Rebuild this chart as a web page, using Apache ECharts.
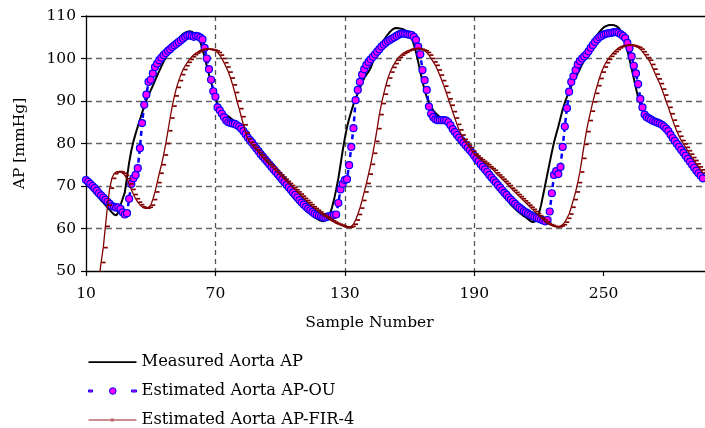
<!DOCTYPE html>
<html>
<head>
<meta charset="utf-8">
<script src="https://cdn.jsdelivr.net/npm/echarts@6/dist/echarts.min.js"></script>
<style>
html,body{margin:0;padding:0;background:#fff;}
#chart{width:705px;height:428px;}
</style>
</head>
<body>
<div id="chart"></div>
<script>
// ---- data (sample numbers start at 10, one value per sample) ----
const firstSample = 10;
const xTickLabels = [10, 70, 130, 190, 250];
const seriesNames = ['Measured Aorta AP', 'Estimated Aorta AP-OU', 'Estimated Aorta AP-FIR-4'];

const measuredAP = [
  70.6,70.0,69.5,68.9,68.3,67.8,67.2,66.6,66.1,65.5,
  65.0,64.4,63.8,63.3,63.1,63.8,65.5,67.0,68.5,72.0,
  75.5,78.3,80.5,82.3,84.0,85.6,87.2,88.8,90.2,91.4,
  92.5,93.6,94.8,96.0,97.1,98.2,99.3,100.2,101.1,101.9,
  102.7,103.4,104.1,104.7,105.3,105.8,106.1,106.3,106.4,106.3,
  106.0,105.6,105.0,103.9,102.2,100.3,98.3,96.3,94.4,92.6,
  90.8,89.3,88.3,87.6,87.1,86.7,86.4,86.0,85.6,85.2,
  84.8,84.4,83.7,83.0,82.3,81.6,80.9,80.2,79.4,78.7,
  78.0,77.3,76.6,75.9,75.2,74.5,73.8,73.2,72.5,71.8,
  71.2,70.5,69.9,69.2,68.6,68.0,67.4,66.8,66.2,65.7,
  65.2,64.7,64.2,63.8,63.4,63.0,62.6,62.3,62.0,61.8,
  61.7,61.9,62.4,63.4,64.8,66.8,69.2,71.8,75.0,78.3,
  81.2,83.8,85.8,87.6,89.2,90.5,91.8,93.1,94.3,95.4,
  96.2,96.9,97.8,99.2,100.5,101.7,102.6,103.5,104.3,105.0,
  105.7,106.3,106.8,107.1,107.2,107.1,107.0,106.9,106.6,106.1,
  105.5,104.7,103.3,101.5,99.2,96.9,94.6,92.6,90.9,89.6,
  88.6,87.8,87.2,86.7,86.3,86.0,85.7,85.5,85.2,84.8,
  84.3,83.6,82.9,82.2,81.5,80.8,80.0,79.3,78.5,77.8,
  77.0,76.3,75.5,74.8,74.1,73.4,72.7,72.0,71.3,70.6,
  69.9,69.3,68.7,68.0,67.4,66.8,66.2,65.6,65.1,64.6,
  64.1,63.7,63.3,62.9,62.6,62.2,61.8,61.5,61.6,62.3,
  63.5,65.5,68.0,70.5,73.0,75.5,78.0,80.3,82.2,84.0,
  86.0,88.0,89.6,91.0,92.3,93.5,94.6,95.5,96.5,97.5,
  98.6,99.6,100.5,101.6,102.6,103.6,104.6,105.5,106.2,106.8,
  107.3,107.6,107.8,107.9,107.9,107.8,107.6,107.2,106.4,105.3,
  104.0,101.9,99.8,97.6,95.3,93.0,90.8,89.3,88.2,87.4,
  86.8,86.4,86.1,85.8,85.6,85.3,85.1,84.6,84.0,83.3,
  82.6,81.9,81.3,80.6,79.9,79.2,78.5,77.8,77.0,76.3,
  75.5,74.8,74.1,73.4,72.6,71.9,71.2
];

const estimatedOU = [
  71.4,71.0,70.5,70.0,69.5,68.9,68.3,67.8,67.3,66.8,
  66.3,65.8,65.3,65.1,64.9,65.0,64.6,63.8,63.3,63.6,
  67.0,70.5,71.8,72.6,74.2,78.9,84.8,89.1,91.5,94.5,
  95.0,96.5,98.0,98.8,99.6,100.2,100.8,101.3,101.8,102.2,
  102.7,103.1,103.5,103.9,104.3,104.7,105.1,105.4,105.5,105.3,
  105.1,105.3,105.2,104.9,104.5,102.5,100.0,97.5,95.0,92.3,
  91.0,88.5,87.8,87.0,86.2,85.4,85.0,84.8,84.7,84.6,
  84.3,84.0,83.5,82.9,82.2,81.4,80.8,80.2,79.5,78.8,
  78.2,77.5,76.9,76.3,75.7,75.1,74.5,73.9,73.3,72.7,
  72.1,71.5,70.9,70.3,69.7,69.1,68.5,67.9,67.3,66.7,
  66.1,65.6,65.1,64.7,64.3,63.9,63.5,63.2,63.0,62.8,
  62.6,62.6,62.8,62.9,63.0,63.2,63.3,66.0,69.2,70.5,
  71.4,71.6,74.9,79.2,83.6,90.2,92.6,94.5,96.2,97.5,
  98.5,99.2,99.8,100.4,101.0,101.6,102.2,102.8,103.3,103.7,
  104.1,104.4,104.7,105.0,105.3,105.6,105.8,105.9,105.8,105.7,
  105.6,105.5,105.1,104.4,102.8,101.0,97.3,94.9,92.6,88.7,
  87.0,86.2,85.7,85.5,85.5,85.5,85.5,85.4,85.0,84.3,
  83.4,82.7,82.0,81.4,80.8,80.2,79.6,79.0,78.4,77.8,
  77.1,76.4,75.8,75.1,74.5,73.9,73.3,72.6,72.0,71.4,
  70.8,70.2,69.6,69.0,68.4,67.9,67.3,66.8,66.3,65.8,
  65.3,64.9,64.5,64.1,63.8,63.5,63.2,62.9,62.7,62.5,
  62.3,62.1,61.9,61.7,62.0,64.0,68.3,72.6,73.5,72.8,
  74.5,79.2,84.0,88.3,92.2,94.5,95.8,97.3,98.6,99.4,
  100.0,100.5,101.0,101.7,102.5,103.2,103.9,104.5,105.0,105.3,
  105.6,105.8,105.9,106.0,106.1,106.2,106.2,106.0,105.7,105.3,
  104.8,103.7,102.4,100.5,98.3,96.5,94.0,90.5,88.5,86.8,
  86.2,85.9,85.6,85.3,85.1,84.9,84.7,84.4,84.0,83.5,
  82.9,82.1,81.3,80.6,79.9,79.2,78.5,77.8,77.1,76.4,
  75.7,75.0,74.3,73.6,73.0,72.4,71.8
];

const estimatedFIR = [
  null,null,null,null,null,44.0,48.0,52.0,55.5,60.5,
  65.5,69.5,71.8,72.9,73.3,73.4,73.3,73.0,72.5,71.7,
  70.5,69.2,68.0,67.0,66.2,65.6,65.1,64.8,64.8,65.0,
  65.5,66.8,68.6,70.8,73.0,75.0,77.3,80.0,83.0,86.0,
  88.8,91.2,93.2,94.8,96.2,97.4,98.3,99.1,99.8,100.4,
  100.9,101.3,101.6,101.9,102.1,102.2,102.2,102.2,102.1,102.0,
  101.8,101.4,100.8,100.0,99.0,98.0,96.8,95.4,93.8,92.0,
  90.0,88.2,86.3,84.4,82.5,81.1,80.3,79.7,79.1,78.5,
  77.9,77.3,76.7,76.1,75.6,75.1,74.6,74.1,73.6,73.1,
  72.6,72.1,71.6,71.1,70.6,70.1,69.6,69.1,68.6,68.1,
  67.6,67.1,66.6,66.1,65.6,65.1,64.7,64.3,63.9,63.5,
  63.1,62.8,62.5,62.1,61.8,61.5,61.2,61.0,60.8,60.6,
  60.4,60.3,60.3,60.5,61.0,62.0,63.3,64.8,66.6,68.6,
  70.6,72.8,75.1,77.7,80.5,83.5,86.8,89.4,91.6,93.6,
  95.4,96.8,97.9,98.8,99.6,100.3,100.8,101.2,101.5,101.8,
  102.0,102.2,102.3,102.4,102.3,102.2,102.0,101.8,101.4,100.8,
  100.0,99.2,98.4,97.3,96.1,94.8,93.5,92.0,90.5,89.0,
  87.5,86.0,84.5,83.2,82.0,81.0,80.3,79.6,79.0,78.2,
  77.5,77.1,76.6,76.2,75.8,75.4,75.0,74.5,74.1,73.7,
  73.1,72.6,72.1,71.6,71.1,70.6,70.1,69.5,69.0,68.5,
  68.0,67.5,67.0,66.5,66.0,65.5,65.0,64.5,64.0,63.5,
  63.0,62.5,62.0,61.6,61.2,60.9,60.7,60.5,60.4,60.4,
  60.6,60.9,61.5,62.4,63.4,65.0,66.8,68.6,70.8,73.3,
  76.5,79.8,82.8,85.4,87.6,89.8,91.8,93.6,95.3,96.8,
  98.0,99.0,99.8,100.5,101.1,101.6,102.1,102.5,102.8,103.0,
  103.1,103.2,103.2,103.1,103.0,102.8,102.6,102.2,101.6,100.9,
  100.2,99.6,98.6,97.5,96.3,95.2,94.1,92.8,91.4,89.9,
  88.5,87.0,85.5,84.1,82.8,81.7,80.7,79.9,79.1,78.3,
  77.5,76.7,76.0,75.2,74.5,73.8,73.1
];

function toPairs(values) {
  return values.map((v, i) => [firstSample + i, v]);
}

const FONT = 'DejaVu Serif';
const chart = echarts.init(document.getElementById('chart'), null, {renderer: 'canvas'});

const iconLine = 'path://M0,0L0,0ZM48,14L48,14ZM0,6.2L48,6.2L48,8L0,8Z';
const iconOU = 'path://M0,0L0,0ZM48,14L48,14ZM0,6L4,6L4,8L0,8ZM21,7A3.3,3.3 0 1,0 27.6,7A3.3,3.3 0 1,0 21,7ZM43,6L48,6L48,8L43,8Z';
const iconFIR = 'path://M0,0L0,0ZM48,14L48,14ZM0,6.3L48,6.3L48,7.7L0,7.7ZM22,5.6L25.5,5.6L25.5,8.4L22,8.4Z';

chart.setOption({
  animation: false,
  backgroundColor: '#fff',
  grid: {left: 86, right: 0, top: 16, bottom: 157, containLabel: false},
  legend: {
    orient: 'vertical',
    left: 88,
    top: 354,
    height: 74,
    padding: 0,
    itemWidth: 48,
    itemHeight: 14,
    itemGap: 13,
    textStyle: {fontFamily: FONT, fontSize: 16.3, lineHeight: 16, color: '#000'},
    data: [
      {name: seriesNames[0], icon: iconLine, itemStyle: {color: '#000', borderWidth: 0}},
      {name: seriesNames[1], icon: iconOU, itemStyle: {color: '#ff00ff', borderColor: '#0000ff', borderWidth: 1}},
      {name: seriesNames[2], icon: iconFIR, itemStyle: {color: '#b86a6a', borderWidth: 0}}
    ]
  },
  xAxis: [{
    type: 'value',
    min: 10,
    max: 297,
    interval: 60,
    name: 'Sample Number',
    nameLocation: 'middle',
    nameGap: 44,
    nameTextStyle: {fontFamily: FONT, fontSize: 15.5, color: '#000', padding: [0, 52, 0, 0]},
    axisLine: {show: true, onZero: false, lineStyle: {color: '#000', width: 1.3}},
    axisTick: {show: true, inside: false, length: 5, customValues: xTickLabels, lineStyle: {color: '#000', width: 1.2}},
    axisLabel: {fontFamily: FONT, fontSize: 15.5, color: '#000', margin: 15, customValues: xTickLabels},
    splitLine: {show: true, showMinLine: false, showMaxLine: false, lineStyle: {color: '#555', width: 1.3, type: [5, 4]}}
  }, {
    type: 'value',
    position: 'top',
    min: 10,
    max: 297,
    axisLine: {show: true, onZero: false, lineStyle: {color: '#000', width: 1.3}},
    axisTick: {show: false},
    axisLabel: {show: false},
    splitLine: {show: false}
  }],
  yAxis: {
    type: 'value',
    min: 50,
    max: 110,
    interval: 10,
    name: 'AP [mmHg]',
    nameLocation: 'middle',
    nameGap: 58,
    nameRotate: 90,
    nameTextStyle: {fontFamily: FONT, fontSize: 15.5, color: '#000'},
    axisLine: {show: true, onZero: false, lineStyle: {color: '#000', width: 1.3}},
    axisTick: {show: true, inside: false, length: 5, lineStyle: {color: '#000', width: 1.2}},
    axisLabel: {fontFamily: FONT, fontSize: 15.5, color: '#000', margin: 10},
    splitLine: {show: true, showMinLine: false, showMaxLine: false, lineStyle: {color: '#666', width: 1.3, type: [6, 4]}}
  },
  series: [{
    name: seriesNames[0],
    type: 'line',
    data: toPairs(measuredAP),
    symbol: 'none',
    lineStyle: {color: '#000', width: 2},
    itemStyle: {color: '#000'},
    z: 3
  }, {
    name: seriesNames[1],
    type: 'line',
    data: toPairs(estimatedOU),
    symbol: 'circle',
    symbolSize: 7,
    showAllSymbol: true,
    lineStyle: {color: '#0000ff', width: 2.5, type: [5, 4]},
    itemStyle: {color: '#ff00ff', borderColor: '#0000ff', borderWidth: 1.2},
    z: 4
  }, {
    name: seriesNames[2],
    type: 'line',
    data: toPairs(estimatedFIR),
    symbol: 'rect',
    symbolSize: [4, 1.7],
    symbolOffset: [2.5, 0],
    showAllSymbol: true,
    connectNulls: false,
    clip: true,
    lineStyle: {color: '#800000', width: 1.3},
    itemStyle: {color: '#800000'},
    z: 5
  }]
});
</script>
</body>
</html>
